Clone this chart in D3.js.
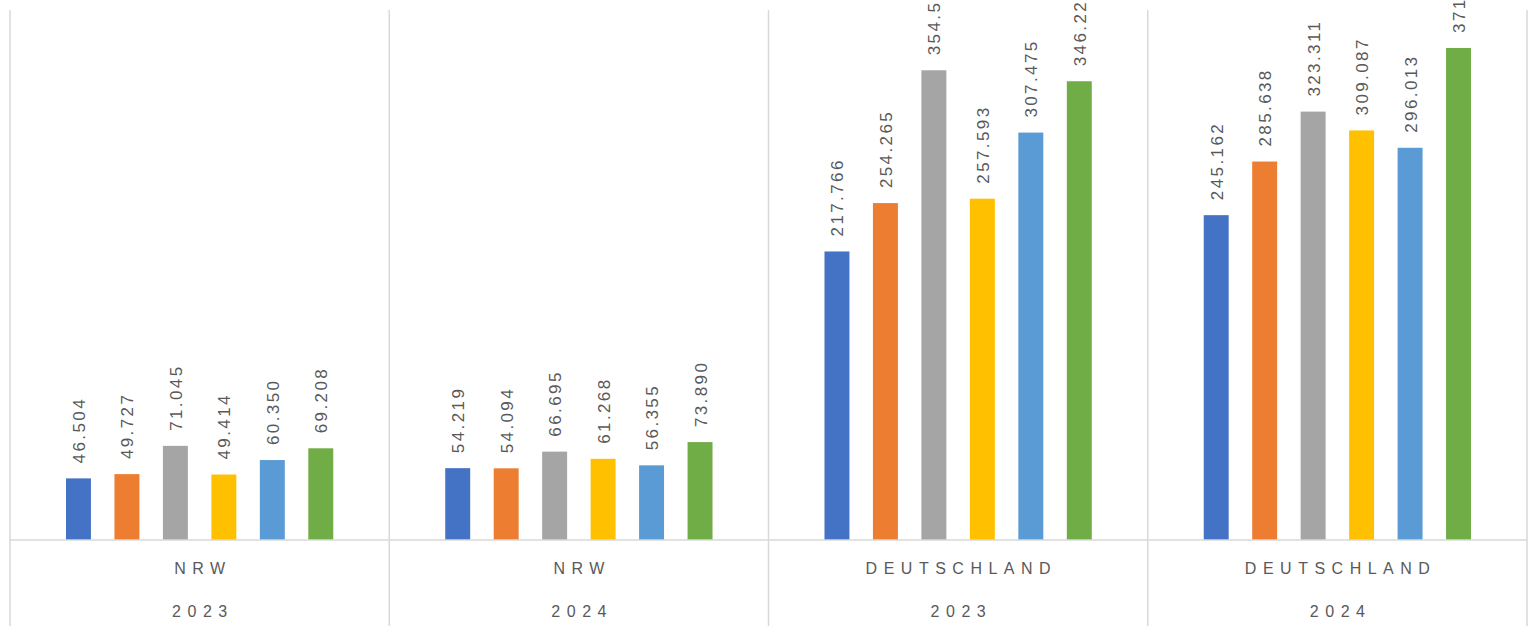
<!DOCTYPE html>
<html>
<head>
<meta charset="utf-8">
<script src="https://cdn.jsdelivr.net/npm/d3@7"></script>
<style>
  html, body { margin: 0; padding: 0; background: #fff; overflow: hidden; }
  svg { display: block; font-family: "Liberation Sans", Arial, sans-serif; }
</style>
</head>
<body>
<svg id="chart"></svg>
<script>
// categories: two-level x axis (region / year)
const regions = ["NRW", "NRW", "DEUTSCHLAND", "DEUTSCHLAND"];
const years = ["2023", "2024", "2023", "2024"];
// six series per category (no legend in the source)
const series = ["s1", "s2", "s3", "s4", "s5", "s6"];
const colors = ["#4472c4", "#ed7d31", "#a5a5a5", "#ffc000", "#5b9bd5", "#70ad47"];
const nrw2023 = [46504, 49727, 71045, 49414, 60350, 69208];
const nrw2024 = [54219, 54094, 66695, 61268, 56355, 73890];
const de2023 = [217766, 254265, 354512, 257593, 307475, 346225];
const de2024 = [245162, 285638, 323311, 309087, 296013, 371342];
const groupValues = [nrw2023, nrw2024, de2023, de2024];

const W = 1534, H = 635;
const m = { left: 10, right: 1527, top: 10, base: 540, bottom: 626 };
const grid = "#d9d9d9", txt = "#595959";

const de = d3.formatLocale({ decimal: ",", thousands: ".", grouping: [3], currency: ["", "€"] });
const fmt = de.format(",d");

const svg = d3.select("#chart").attr("width", W).attr("height", H);

const groups = d3.range(regions.length);
const x0 = d3.scaleBand().domain(groups).range([m.left, m.right]).padding(0);
const x1 = d3.scaleBand().domain(series).range([0, x0.bandwidth()])
    .paddingInner(0.485).paddingOuter(1.155);
const y = d3.scaleLinear().domain([0, 400000]).range([m.base, m.top]);

// group separators
svg.append("g").selectAll("line")
    .data(groups.map(i => x0(i)).concat([m.right]))
    .enter().append("line")
    .attr("x1", d => d).attr("x2", d => d)
    .attr("y1", m.top).attr("y2", m.bottom)
    .attr("stroke", grid).attr("stroke-width", 1.5);

// bars
const gg = svg.selectAll(".grp").data(groups).enter().append("g")
    .attr("class", "grp")
    .attr("transform", i => `translate(${x0(i)},0)`);

gg.selectAll("rect")
    .data(i => groupValues[i].map((v, k) => ({ s: series[k], v, c: colors[k] })))
    .enter().append("rect")
    .attr("x", d => x1(d.s))
    .attr("y", d => y(d.v))
    .attr("width", x1.bandwidth())
    .attr("height", d => y(0) - y(d.v))
    .attr("fill", d => d.c);

// value labels, rotated (the tallest ones run off the top, as in the source)
gg.selectAll("text")
    .data(i => groupValues[i].map((v, k) => ({ s: series[k], v })))
    .enter().append("text")
    .attr("transform", d => `translate(${x1(d.s) + x1.bandwidth() / 2 + 1},${y(d.v) - 15}) rotate(-90)`)
    .attr("dominant-baseline", "central")
    .style("font-size", "17px").style("letter-spacing", "2.4px").style("fill", txt)
    .text(d => fmt(d.v));

// baseline
svg.append("line")
    .attr("x1", m.left).attr("x2", m.right)
    .attr("y1", m.base).attr("y2", m.base)
    .attr("stroke", grid).attr("stroke-width", 1.5);

// two-level category labels
const ls = 6.5;
svg.selectAll(".reg").data(groups).enter().append("text")
    .attr("x", i => x0(i) + x0.bandwidth() / 2 + ls / 2)
    .attr("y", 568.5)
    .attr("text-anchor", "middle").attr("dominant-baseline", "central")
    .style("font-size", "16px").style("letter-spacing", ls + "px").style("fill", txt)
    .text(i => regions[i]);
svg.selectAll(".yr").data(groups).enter().append("text")
    .attr("x", i => x0(i) + x0.bandwidth() / 2 + ls / 2)
    .attr("y", 611)
    .attr("text-anchor", "middle").attr("dominant-baseline", "central")
    .style("font-size", "16px").style("letter-spacing", ls + "px").style("fill", txt)
    .text(i => years[i]);
</script>
</body>
</html>
